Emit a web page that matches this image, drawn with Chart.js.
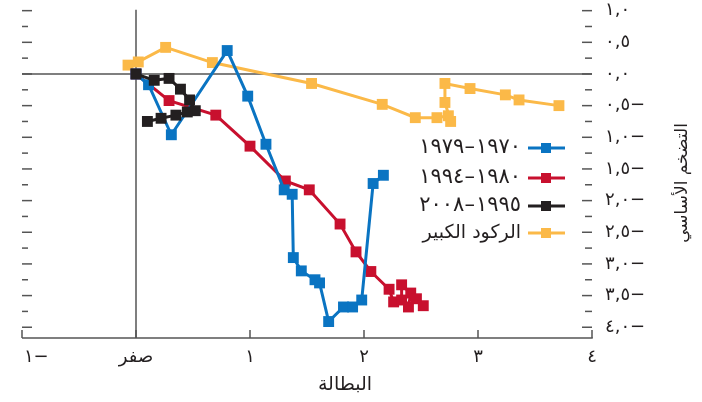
<!DOCTYPE html>
<html><head><meta charset="utf-8">
<script src="https://cdn.jsdelivr.net/npm/chart.js@4"></script>
<style>html,body{margin:0;padding:0;background:#fff;}canvas{display:block}</style>
</head><body>
<canvas id="c" width="702" height="402"></canvas>
<script>
// ---- data ----
const seriesNames = ['١٩٧٠–١٩٧٩', '١٩٨٠–١٩٩٤', '١٩٩٥–٢٠٠٨', 'الركود الكبير'];

const blueX = [0, 0.11, 0.31, 0.80, 0.98, 1.14, 1.30, 1.37, 1.38, 1.45, 1.57, 1.61, 1.69, 1.82, 1.90, 1.98, 2.08, 2.17];
const blueY = [0, -0.17, -0.96, 0.37, -0.35, -1.11, -1.83, -1.90, -2.90, -3.11, -3.25, -3.30, -3.91, -3.68, -3.68, -3.57, -1.73, -1.60];

const redX = [0, 0.29, 0.70, 1.00, 1.31, 1.52, 1.79, 1.93, 2.06, 2.22, 2.26, 2.33, 2.33, 2.41, 2.39, 2.46, 2.52];
const redY = [0, -0.42, -0.65, -1.14, -1.69, -1.83, -2.37, -2.81, -3.12, -3.40, -3.60, -3.57, -3.33, -3.46, -3.68, -3.55, -3.66];

const blackX = [0, 0.16, 0.29, 0.39, 0.47, 0.52, 0.45, 0.35, 0.22, 0.10];
const blackY = [0, -0.10, -0.07, -0.24, -0.41, -0.58, -0.60, -0.65, -0.70, -0.75];

const orangeX = [-0.07, 0.02, 0.26, 0.67, 1.54, 2.16, 2.45, 2.64, 2.74, 2.76, 2.71, 2.71, 2.93, 3.24, 3.36, 3.71];
const orangeY = [0.14, 0.19, 0.42, 0.18, -0.15, -0.48, -0.69, -0.69, -0.66, -0.75, -0.45, -0.15, -0.23, -0.33, -0.41, -0.50];

const xTickValues = [-1, 0, 1, 2, 3, 4];
const xTickLabels = ['     ١−', 'صفر', '١', '٢', '٣', '٤'];
const yTickValues = [1, 0.5, 0, -0.5, -1, -1.5, -2, -2.5, -3, -3.5, -4];
const yTickLabels = ['١,٠', '٠,٥', '٠,٠', '٠,٥−', '١,٠−', '١,٥−', '٢,٠−', '٢,٥−', '٣,٠−', '٣,٥−', '٤,٠−'];
const xTitle = 'البطالة';
const yTitle = 'التضخم الأساسي';

const colors = ['#0a74c2', '#c8102e', '#231f20', '#fbb948'];
const FONT = "'DejaVu Sans', sans-serif";

function pts(xs, ys) { return xs.map((v, i) => ({ x: v, y: ys[i] })); }

function ds(label, xs, ys, color, order) {
  return {
    label, data: pts(xs, ys), order,
    showLine: true, borderColor: color, backgroundColor: color,
    borderWidth: 3, tension: 0,
    pointStyle: 'rect', pointRadius: 7.7, pointHoverRadius: 7.7,
    pointBorderWidth: 0, pointBackgroundColor: color, clip: false
  };
}

function line(ctx, x1, y1, x2, y2) { ctx.beginPath(); ctx.moveTo(x1, y1); ctx.lineTo(x2, y2); ctx.stroke(); }

const frame = {
  id: 'frame',
  beforeDatasetsDraw(chart) {
    const { ctx, chartArea: a, scales: { x, y } } = chart;
    ctx.save();
    ctx.strokeStyle = '#555';
    ctx.lineWidth = 1.5;
    const y0 = y.getPixelForValue(0), x0 = x.getPixelForValue(0);
    line(ctx, a.left, y0, a.right, y0);
    line(ctx, x0, y.getPixelForValue(yTickValues[0]) - 1, x0, a.bottom);
    line(ctx, a.left, a.bottom, a.right + 0.75, a.bottom);
    xTickValues.forEach(v => { const px = x.getPixelForValue(v); line(ctx, px, a.bottom, px, a.bottom - 8); });
    const top = yTickValues[0], bot = yTickValues[yTickValues.length - 1];
    for (let v = top, k = 0; v >= bot - 1e-9; v -= 0.25, k++) {
      const py = y.getPixelForValue(v);
      const major = k % 2 === 0;
      line(ctx, a.left, py, a.left + (major ? 10 : 6), py);
      line(ctx, a.right, py, a.right - (major ? 10 : 7), py);
    }
    ctx.restore();
  },
  afterDraw(chart) {
    const { ctx } = chart;
    ctx.save();
    ctx.fillStyle = '#231f20';
    ctx.textAlign = 'center'; ctx.textBaseline = 'middle';
    ctx.font = '19px ' + FONT;
    ctx.fillText(xTitle, 345, 385);
    ctx.font = '17px ' + FONT;
    ctx.translate(683, 183); ctx.rotate(-Math.PI / 2);
    ctx.fillText(yTitle, 0, 0);
    ctx.restore();
    // legend
    ctx.save();
    const rows = [148, 178, 206, 233];
    chart.data.datasets.forEach((d, i) => {
      const yy = rows[i];
      ctx.strokeStyle = d.borderColor; ctx.lineWidth = 3;
      line(ctx, 528, yy, 565, yy);
      ctx.fillStyle = d.borderColor;
      ctx.fillRect(541, yy - 5, 10, 10);
      ctx.fillStyle = '#231f20';
      ctx.font = (i === 3 ? '19px ' : '21px ') + FONT;
      ctx.letterSpacing = i === 3 ? '0px' : '1px';
      ctx.textAlign = 'right'; ctx.textBaseline = 'middle';
      ctx.fillText(d.label, 521, yy);
    });
    ctx.restore();
  }
};

function zeroPadX(s) { s.height = 64; s.paddingLeft = 0; s.paddingRight = 0; }
function zeroPadY(s) { s.width = 110; s.paddingTop = 0; s.paddingBottom = 0; }

new Chart(document.getElementById('c'), {
  type: 'scatter',
  data: {
    datasets: [
      ds(seriesNames[0], blueX, blueY, colors[0], 1),
      ds(seriesNames[1], redX, redY, colors[1], 2),
      ds(seriesNames[2], blackX, blackY, colors[2], 0),
      ds(seriesNames[3], orangeX, orangeY, colors[3], 3)
    ]
  },
  options: {
    responsive: false, animation: false, devicePixelRatio: 1,
    layout: { padding: { left: 22, top: 8, right: 0, bottom: 0 } },
    plugins: { legend: { display: false }, tooltip: { enabled: false } },
    scales: {
      x: {
        type: 'linear', position: 'bottom', min: -1, max: 4,
        grid: { display: false, drawTicks: false }, border: { display: false },
        afterBuildTicks: s => { s.ticks = xTickValues.map(v => ({ value: v })); },
        afterFit: zeroPadX,
        ticks: {
          padding: 9, color: '#231f20', font: { size: 18, family: FONT }, maxRotation: 0, autoSkip: false,
          callback: (v) => { const i = xTickValues.indexOf(v); return i >= 0 ? xTickLabels[i] : ''; }
        }
      },
      y: {
        type: 'linear', position: 'right', min: -4.17, max: 1.042,
        grid: { display: false, drawTicks: false }, border: { display: false },
        afterBuildTicks: s => { s.ticks = yTickValues.map(v => ({ value: v })); },
        afterFit: zeroPadY,
        ticks: {
          padding: 13, color: '#231f20', font: { size: 18, family: FONT }, autoSkip: false,
          callback: (v) => { const i = yTickValues.indexOf(v); return i >= 0 ? yTickLabels[i] : ''; }
        }
      }
    }
  },
  plugins: [frame]
});
</script>
</body></html>
